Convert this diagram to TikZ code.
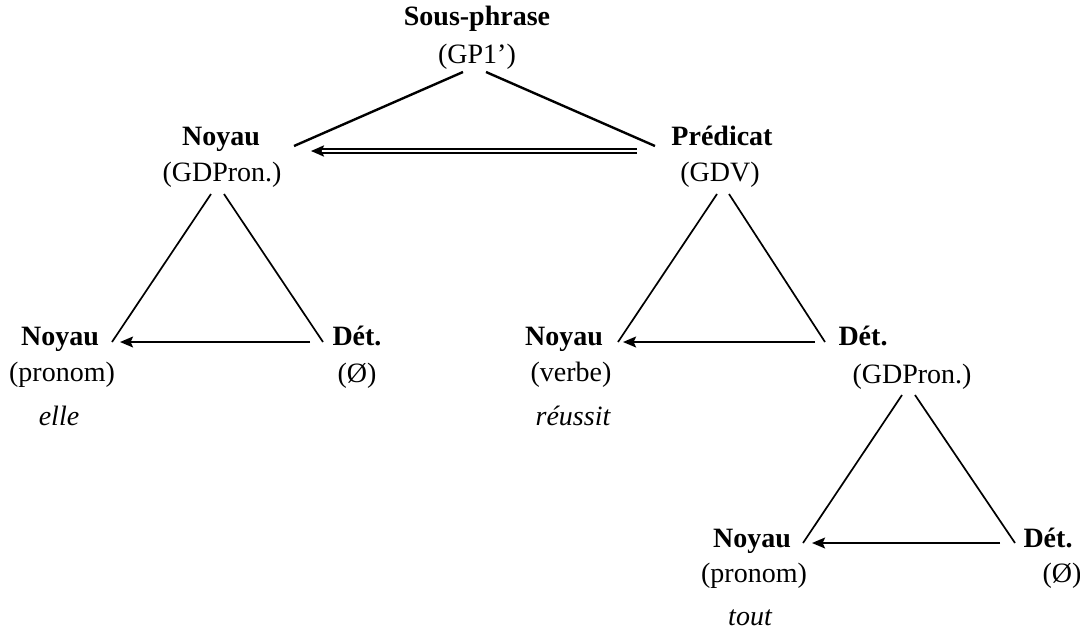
\documentclass[tikz,border=0pt]{standalone}
\usepackage{fontspec}
\setmainfont{Liberation Serif}
\usetikzlibrary{arrows.meta}
\tikzset{
  lbl/.style={anchor=base, inner sep=0pt, font=\fontsize{14}{17}\selectfont},
  hd/.style={lbl, font=\fontsize{14}{17}\selectfont\bfseries},
  wd/.style={lbl, font=\fontsize{14}{17}\selectfont\itshape},
  topline/.style={line width=1.2pt},
  triline/.style={line width=0.85pt},
  relarrow/.style={line width=1.1pt, -{Stealth[length=6.5pt,width=5.4pt,inset=1.2pt]}},
  dblarrow/.style={double, line width=0.9pt, double distance=0.9pt, -{Stealth[length=6.5pt,width=5.6pt,inset=1.2pt]}}
}
\begin{document}
\begin{tikzpicture}[x=0.5pt,y=-0.5pt]
\useasboundingbox (0,0) rectangle (1080,633);
% texts
\node[hd] (sp) at (477,25) {Sous-phrase};
\node[lbl] (spc) at (477,63) {(GP1’)};
\node[hd] (n1) at (221,145) {Noyau};
\node[lbl] (n1c) at (222,181) {(GDPron.)};
\node[hd] (pr) at (722,145) {Prédicat};
\node[lbl] (prc) at (720,181) {(GDV)};
\node[hd] (n2) at (60,345) {Noyau};
\node[lbl] (n2c) at (62,381) {(pronom)};
\node[wd] (n2w) at (59,425) {elle};
\node[hd] (d1) at (357,345) {Dét.};
\node[lbl] (d1c) at (357,382) {(Ø)};
\node[hd] (n3) at (564,345) {Noyau};
\node[lbl] (n3c) at (571,381) {(verbe)};
\node[wd] (n3w) at (573,425) {réussit};
\node[hd] (d2) at (863,345) {Dét.};
\node[lbl] (d2c) at (912,383) {(GDPron.)};
\node[hd] (n4) at (752,547) {Noyau};
\node[lbl] (n4c) at (754,582) {(pronom)};
\node[wd] (n4w) at (750,625) {tout};
\node[hd] (d3) at (1048,547) {Dét.};
\node[lbl] (d3c) at (1062,582) {(Ø)};
% connector end points
\coordinate (spL) at (463,72);
\coordinate (spR) at (486,72);
\coordinate (n1T) at (294,146);
\coordinate (prT) at (655,146);
\coordinate (prA) at (637,151);
\coordinate (n1A) at (311,151);
\coordinate (n1L) at (211,194);
\coordinate (n1R) at (224,194);
\coordinate (n2T) at (112,342);
\coordinate (d1T) at (323,342);
\coordinate (d1A) at (310,342);
\coordinate (n2A) at (120,342);
\coordinate (prL) at (717,194);
\coordinate (prR) at (729,194);
\coordinate (n3T) at (618,342);
\coordinate (d2T) at (825,342);
\coordinate (d2A) at (815,342);
\coordinate (n3A) at (623,342);
\coordinate (d2L) at (902,395);
\coordinate (d2R) at (915,395);
\coordinate (n4T) at (803,543);
\coordinate (d3T) at (1015,543);
\coordinate (d3A) at (1000,543);
\coordinate (n4A) at (812,543);
% connectors
\draw[topline] (spL) -- (n1T);
\draw[topline] (spR) -- (prT);
\draw[dblarrow] (prA) -- (n1A);
\draw[triline] (n1L) -- (n2T);
\draw[triline] (n1R) -- (d1T);
\draw[relarrow] (d1A) -- (n2A);
\draw[triline] (prL) -- (n3T);
\draw[triline] (prR) -- (d2T);
\draw[relarrow] (d2A) -- (n3A);
\draw[triline] (d2L) -- (n4T);
\draw[triline] (d2R) -- (d3T);
\draw[relarrow] (d3A) -- (n4A);
\end{tikzpicture}
\end{document}
